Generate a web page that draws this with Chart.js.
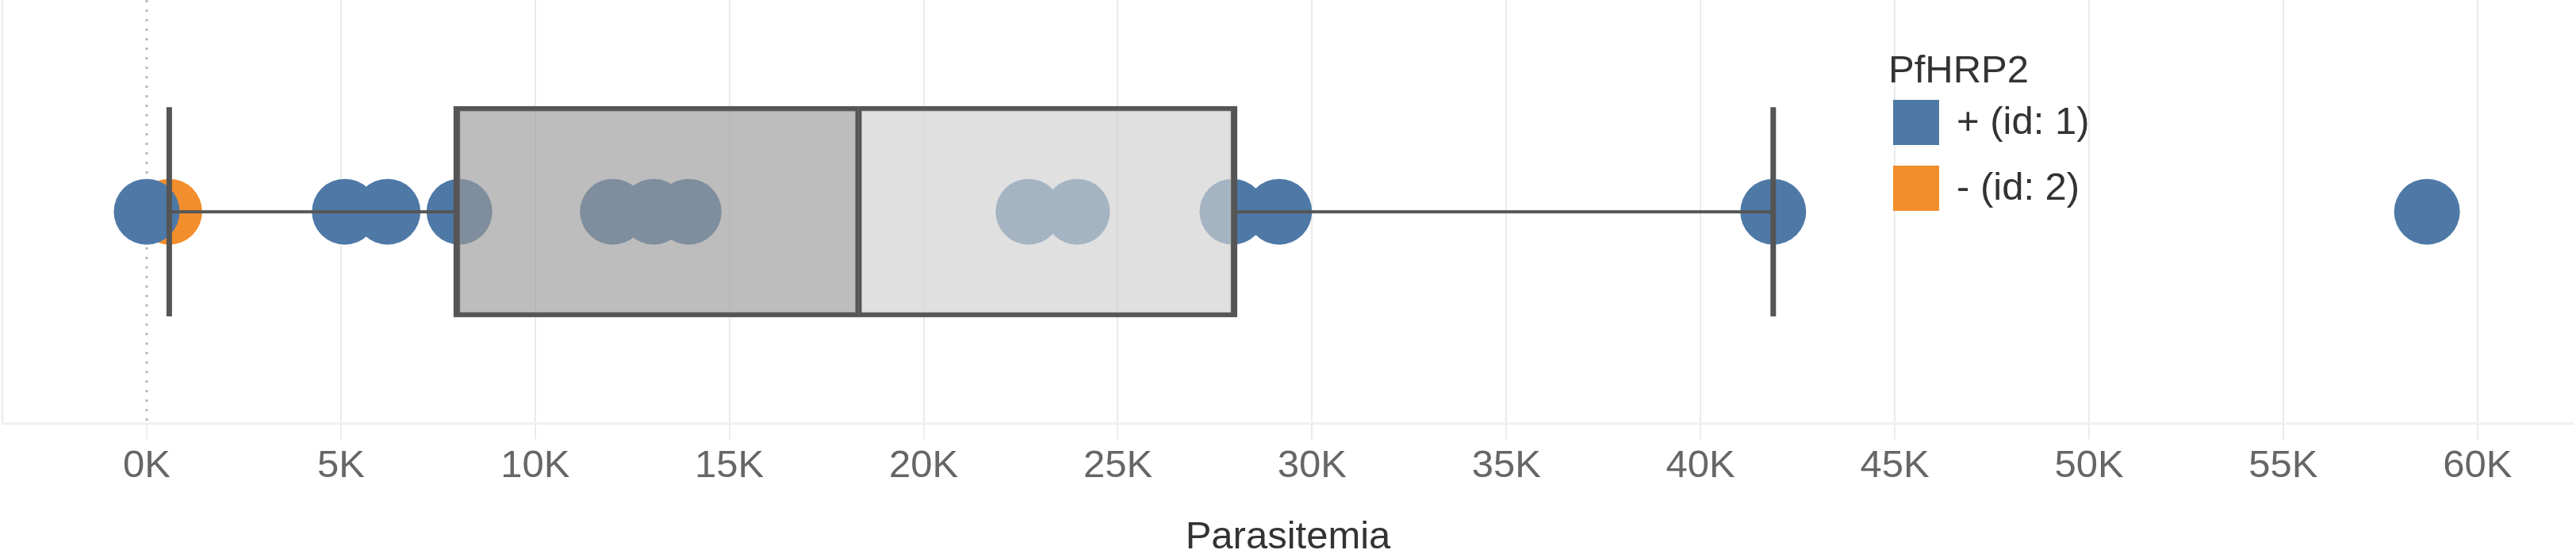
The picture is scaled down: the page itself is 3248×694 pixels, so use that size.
<!DOCTYPE html>
<html>
<head>
<meta charset="utf-8">
<script src="https://cdn.jsdelivr.net/npm/chart.js@4.4.1/dist/chart.umd.min.js"></script>
<style>
  html, body { margin: 0; padding: 0; background: #fff; }
  #wrap { width: 3248px; height: 694px; position: relative; }
</style>
</head>
<body>
<div id="wrap"><canvas id="mainChart"></canvas></div>
<script>
// Parasitemia per sample, split by PfHRP2 result
const positiveValues = [0, 5100, 6200, 8050, 12000, 13050, 13950, 22700, 23950, 27950, 29150, 41870, 58700];
const negativeValues = [580];

const seriesLabels = ["+ (id: 1)", "- (id: 2)"];
const seriesColors = ["#4e79a7", "#f28e2b"];
const legendTitle = "PfHRP2";

// box plot: lower quartile, median, upper quartile, and whisker ends
const quartiles = [7900, 18325, 28070];
const whiskers = [580, 41870];

// axis ticks (shown as 0K, 5K, ...)
const tickValues = [0, 5000, 10000, 15000, 20000, 25000, 30000, 35000, 40000, 45000, 50000, 55000, 60000];
const axisMin = -3695;
const axisMax = 62454;

const FONT = "'Liberation Sans', Arial, sans-serif";
const GRID = "#ebebeb";
const BOX_LINE = "#555555";

const toPoints = vals => vals.map(v => ({ x: v, y: 0 }));

// dotted zero line + left pane edge
const paneLines = {
  id: "paneLines",
  beforeDatasetsDraw(chart) {
    const { ctx, chartArea } = chart;
    const x0 = chart.scales.x.getPixelForValue(0);
    ctx.save();
    ctx.strokeStyle = "#b8b8b8";
    ctx.lineWidth = 3;
    ctx.setLineDash([3, 9]);
    ctx.beginPath();
    ctx.moveTo(x0, chartArea.top);
    ctx.lineTo(x0, chartArea.bottom);
    ctx.stroke();
    ctx.setLineDash([]);
    ctx.strokeStyle = "#f0f0f0";
    ctx.beginPath();
    ctx.moveTo(chartArea.left - 1, chartArea.top);
    ctx.lineTo(chartArea.left - 1, chartArea.bottom);
    ctx.stroke();
    ctx.restore();
  }
};

// legend sits inside the pane, like the original
const paneLegend = {
  id: "paneLegend",
  afterDraw(chart) {
    const ctx = chart.ctx;
    ctx.save();
    ctx.fillStyle = "#333";
    ctx.font = "49px " + FONT;
    ctx.textBaseline = "alphabetic";
    ctx.textAlign = "left";
    ctx.fillText(legendTitle, 2381, 104);
    ctx.textBaseline = "middle";
    seriesLabels.forEach((lab, i) => {
      const y = 126 + i * 83;
      ctx.fillStyle = seriesColors[i];
      ctx.fillRect(2387, y, 58, 57);
      ctx.fillStyle = "#333";
      ctx.fillText(lab, 2467, y + 29);
    });
    ctx.restore();
  }
};

const ctx = document.getElementById("mainChart").getContext("2d");

new Chart(ctx, {
  type: "scatter",
  data: {
    datasets: [
      {
        type: "bar",
        label: "box",
        indexAxis: "y",
        order: 0,
        data: [
          { x: [quartiles[0], quartiles[1]], y: 0 },
          { x: [quartiles[1], quartiles[2]], y: 0 }
        ],
        backgroundColor: ["rgba(153,153,153,0.65)", "rgba(209,209,209,0.67)"],
        borderColor: BOX_LINE,
        borderWidth: c => c.dataIndex === 0
          ? { left: 8, right: 4, top: 6, bottom: 6 }
          : { left: 4, right: 8, top: 6, bottom: 6 },
        borderSkipped: false,
        barThickness: 266
      },
      {
        type: "line",
        label: "whiskerLow",
        order: 0,
        data: toPoints([whiskers[0], quartiles[0]]),
        borderColor: BOX_LINE,
        borderWidth: 4,
        pointRadius: 0
      },
      {
        type: "line",
        label: "whiskerHigh",
        order: 0,
        data: toPoints([quartiles[2], whiskers[1]]),
        borderColor: BOX_LINE,
        borderWidth: 4,
        pointRadius: 0
      },
      {
        label: "caps",
        order: 0,
        data: toPoints(whiskers),
        pointStyle: "line",
        rotation: 90,
        pointRadius: 132,
        borderWidth: 7,
        borderColor: BOX_LINE
      },
      {
        label: seriesLabels[0],
        order: 1,
        data: toPoints(positiveValues),
        backgroundColor: seriesColors[0],
        borderWidth: 0,
        pointRadius: 41.5
      },
      {
        label: seriesLabels[1],
        order: 2,
        data: toPoints(negativeValues),
        backgroundColor: seriesColors[1],
        borderWidth: 0,
        pointRadius: 41.5
      }
    ]
  },
  options: {
    responsive: true,
    maintainAspectRatio: false,
    animation: false,
    events: [],
    devicePixelRatio: 1,
    layout: { autoPadding: false, padding: { left: 4, right: 4, top: 0, bottom: 0 } },
    plugins: {
      legend: { display: false },
      tooltip: { enabled: false }
    },
    scales: {
      x: {
        type: "linear",
        min: axisMin,
        max: axisMax,
        afterBuildTicks: axis => {
          axis.ticks = tickValues.map(v => ({ value: v }));
        },
        grid: {
          color: c => (c.tick && c.tick.value === 0) ? "rgba(0,0,0,0)" : GRID,
          lineWidth: 2,
          tickColor: GRID,
          tickLength: 20,
          tickWidth: 2
        },
        border: { display: true, color: "#f0f0f0", width: 3 },
        ticks: {
          maxRotation: 0,
          autoSkip: false,
          padding: 5,
          color: "#666",
          font: { family: FONT, size: 49 },
          callback: v => (v / 1000) + "K"
        },
        title: {
          display: true,
          text: "Parasitemia",
          color: "#333",
          font: { family: FONT, size: 49, lineHeight: 0.65 },
          padding: { top: 39, bottom: 0 }
        }
      },
      y: {
        type: "linear",
        display: false,
        min: -1,
        max: 1
      }
    }
  },
  plugins: [paneLines, paneLegend]
});
</script>
</body>
</html>
